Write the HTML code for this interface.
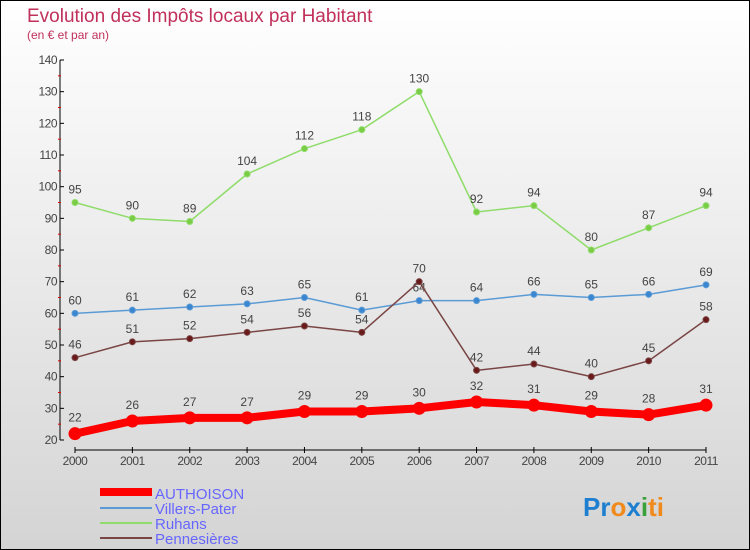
<!DOCTYPE html>
<html><head><meta charset="utf-8"><style>
body{margin:0}
#c{width:750px;height:550px;position:relative;box-sizing:border-box;border:1px solid #000;background:linear-gradient(#fff,#d4d4d4);font-family:"Liberation Sans",sans-serif;overflow:hidden}
</style></head><body>
<div id="c">
<svg width="748" height="548" viewBox="1 1 748 548" id="s">
<text x="27" y="22" font-size="19" fill="#c0305a">Evolution des Impôts locaux par Habitant</text>
<text x="27" y="39" font-size="12" fill="#c0305a">(en € et par an)</text>
<g id="axes"></g><g id="series"></g>
<g font-size="15" fill="#6666ff">
<rect x="100" y="488" width="52" height="8" fill="#f00"/>
<text x="155" y="499">AUTHOISON</text>
<line x1="100" y1="508" x2="152" y2="508" stroke="#5b9bd5" stroke-width="2"/>
<text x="155" y="514">Villers-Pater</text>
<line x1="100" y1="523" x2="152" y2="523" stroke="#8fdc6a" stroke-width="2"/>
<text x="155" y="529">Ruhans</text>
<line x1="100" y1="538" x2="152" y2="538" stroke="#7a4545" stroke-width="2"/>
<text x="155" y="544">Pennesières</text>
</g>
<text x="583" y="516" font-size="26" font-weight="bold"><tspan fill="#1e7fd0">Pr</tspan><tspan fill="#f08a1c">o</tspan><tspan fill="#1e7fd0">x</tspan><tspan fill="#3aa03a">i</tspan><tspan fill="#f08a1c">ti</tspan></text>
</svg></div>
<script>
const years=[2000,2001,2002,2003,2004,2005,2006,2007,2008,2009,2010,2011];
const authoison=[22,26,27,27,29,29,30,32,31,29,28,31];
const villers=[60,61,62,63,65,61,64,64,66,65,66,69];
const ruhans=[95,90,89,104,112,118,130,92,94,80,87,94];
const pennes=[46,51,52,54,56,54,70,42,44,40,45,58];
const yTicks=[20,30,40,50,60,70,80,90,100,110,120,130,140];
const NS="http://www.w3.org/2000/svg";
const X=i=>75+i*(706-75)/(years.length-1);
const Y=v=>440-(v-20)*(380/120);
function mk(t,a,p){const e=document.createElementNS(NS,t);for(const k in a)e.setAttribute(k,a[k]);p.appendChild(e);return e;}
const ax=document.getElementById('axes');
let l=mk('line',{x1:60,y1:Y(140),x2:60,y2:Y(20),stroke:'#000'},ax);


l=mk('line',{x1:X(0),y1:450,x2:X(11),y2:450,stroke:'#000'},ax);


yTicks.forEach((v,i)=>{
 mk('line',{x1:60,y1:Y(v),x2:64,y2:Y(v),stroke:'#000'},ax);
 if(i<yTicks.length-1)mk('line',{x1:58,y1:Y(v+5),x2:61,y2:Y(v+5),stroke:'#d00'},ax);
 const t=mk('text',{x:57,y:Y(v)+4,'font-size':12,fill:'#444','text-anchor':'end','letter-spacing':'-0.5'},ax);
 t.textContent=v;
 
 
});
years.forEach((y,i)=>{
 mk('line',{x1:X(i),y1:447,x2:X(i),y2:453,stroke:'#000'},ax);
 const t=mk('text',{x:X(i),y:465,'font-size':12,fill:'#444','text-anchor':'middle','letter-spacing':'-0.5'},ax);
 t.textContent=y;
 
 
});
const sg=document.getElementById('series');
function series(vals,color,w,r,name,fill){
 const g=mk('g',{},sg);
 
 
 const p=mk('polyline',{points:vals.map((v,i)=>X(i)+','+Y(v)).join(' '),fill:'none',stroke:color,'stroke-width':w,'stroke-linejoin':'round'},g);
 
 
 vals.forEach((v,i)=>{
  const c=mk('circle',{cx:X(i),cy:Y(v),r:r,fill:fill,stroke:color,'stroke-width':1},g);
  
  
  const t=mk('text',{x:X(i),y:Y(v)-(r+6),'font-size':12,fill:'#444','text-anchor':'middle'},g);
  t.textContent=v;
  
  
 });
}
series(ruhans,'#8fdc6a',1.5,3,'ruhans','#7acc44');
series(villers,'#5b9bd5',1.5,3,'villers-pater','#3a86d0');
series(pennes,'#7a4545',1.5,3,'pennesieres','#6a1a1a');
series(authoison,'#f00',8,6,'authoison','#f00');
</script>
</body></html>
